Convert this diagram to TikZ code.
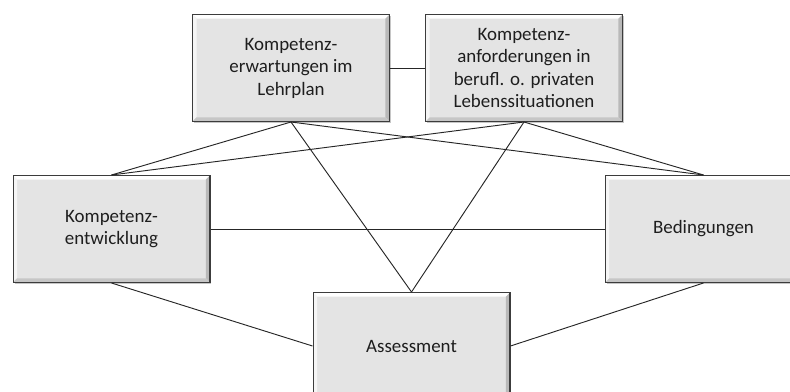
\documentclass[tikz,border=0pt]{standalone}
\usepackage{fontspec}
\setmainfont{Carlito}
\usetikzlibrary{shadows}
\definecolor{boxfill}{HTML}{E4E4E4}
\definecolor{boxline}{HTML}{3C3C3C}
\definecolor{boxtext}{HTML}{1E1E1E}
\tikzset{
  box/.style={draw=boxline, line width=1pt, fill=boxfill, text=boxtext,
    minimum width=147.5pt, minimum height=80pt, inner sep=2pt,
    align=center, font=\fontsize{14.2}{16.9}\selectfont,
    drop shadow={shadow xshift=1.2pt, shadow yshift=-1.2pt, opacity=0.45},
    path picture={
      \fill[white] (path picture bounding box.north west) -- (path picture bounding box.north east)
        -- ([shift={(-3pt,-3pt)}]path picture bounding box.north east) -- ([shift={(3pt,-3pt)}]path picture bounding box.north west) -- cycle;
      \fill[gray!8] (path picture bounding box.north west) -- (path picture bounding box.south west)
        -- ([shift={(3pt,3pt)}]path picture bounding box.south west) -- ([shift={(3pt,-3pt)}]path picture bounding box.north west) -- cycle;
      \fill[gray!55] (path picture bounding box.north east) -- (path picture bounding box.south east)
        -- ([shift={(-3pt,3pt)}]path picture bounding box.south east) -- ([shift={(-3pt,-3pt)}]path picture bounding box.north east) -- cycle;
      \fill[gray!45] (path picture bounding box.south west) -- (path picture bounding box.south east)
        -- ([shift={(-3pt,3pt)}]path picture bounding box.south east) -- ([shift={(3pt,3pt)}]path picture bounding box.south west) -- cycle;
    }},
  link/.style={draw=black!85, line width=0.7pt}
}
\begin{document}
\begin{tikzpicture}[x=0.75pt, y=-0.75pt]
  \useasboundingbox (0,0) rectangle (790,392);
  \clip (0,0) rectangle (790,392);
  \node[box] (lp)   at (291,68)    {Kompetenz-\\erwartungen im\\Lehrplan};
  \node[box] (anf)  at (524,68)    {Kompetenz-\\anforderungen in\\berufl. o. privaten\\Lebenssituationen};
  \node[box] (entw) at (111.5,229) {Kompetenz-\\entwicklung};
  \node[box] (bed)  at (703.5,229) {Bedingungen};
  \node[box] (ass)  at (411.5,346) {Assessment};
  \draw[link] (lp.east) -- (anf.west);
  \draw[link] (lp.south) -- (entw.north);
  \draw[link] (lp.south) -- (bed.north);
  \draw[link] (lp.south) -- (ass.north);
  \draw[link] (anf.south) -- (entw.north);
  \draw[link] (anf.south) -- (bed.north);
  \draw[link] (anf.south) -- (ass.north);
  \draw[link] (entw.east) -- (bed.west);
  \draw[link] (entw.south) -- (ass.west);
  \draw[link] (bed.south) -- (ass.east);
\end{tikzpicture}
\end{document}
